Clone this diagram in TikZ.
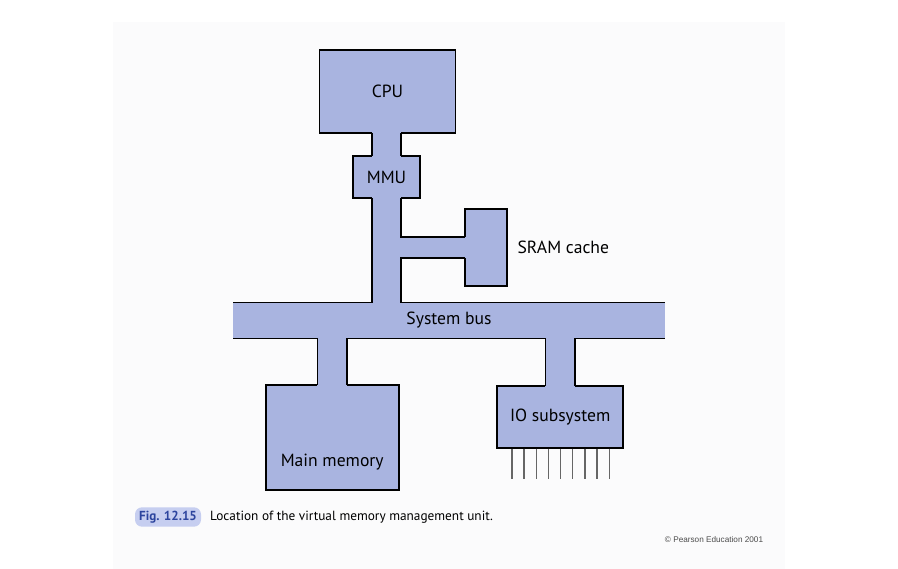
\documentclass[tikz,border=0pt]{standalone}
\usepackage{fontspec}
\setmainfont{PT Sans}
\newfontfamily\smallsans{Liberation Sans}
\usepackage{tikz}
\usetikzlibrary{calc}
\usetikzlibrary{positioning}
\definecolor{busblue}{RGB}{169,180,224}
\definecolor{figblue}{RGB}{198,206,240}
\definecolor{figtext}{RGB}{44,68,158}
\definecolor{panel}{RGB}{251,251,252}
\newcommand{\sw}{14.8}

\begin{document}
\begin{tikzpicture}[x=1pt,y=1pt,node distance=30pt,on grid,
		blk/.style={rectangle,draw=black,line width=1.8pt,fill=busblue,inner sep=0pt,outer sep=0pt,font=\fontsize{17.6}{20}\selectfont},
		wire/.style={draw=black,line width=1.8pt},
		stem/.style={fill=busblue},
		lbl/.style={font=\fontsize{17.6}{20}\selectfont,inner sep=0pt},
		pin/.style={draw=black!60,line width=1.4pt}]
		\useasboundingbox (0,0) rectangle (898,-569);
		\fill[panel] (113,-22) rectangle (785,-569);
		
		\node[blk,minimum width=136pt,minimum height=83pt] (cpu)   at (387.5,-91.5)  {CPU};
		\node[blk,minimum width=67pt,minimum height=42pt]  (mmu)   at (386.5,-177)   {MMU};
		\node[blk,minimum width=42pt,minimum height=77pt]  (cache) at (486.3,-247.5) {};
		\node[blk,draw=none,minimum width=432pt,minimum height=36pt] (bus) at (449,-320.5) {System bus};
		\node[blk,minimum width=133pt,minimum height=105pt] (mem)  at (332.2,-437.7) {};
		\node[blk,minimum width=126pt,minimum height=62pt]  (io)   at (560.2,-416.7) {IO subsystem};
		\node[lbl] (cachelbl) [right=77pt of cache] {SRAM cache};
		\node[lbl] (memlbl) at ($(mem.south)+(0,28)$) {Main memory};
		
		% stem edges
		\coordinate (mmuL) at ($(mmu.south)+(-\sw,0)$);
		\coordinate (mmuR) at ($(mmu.south)+(\sw,0)$);
		\coordinate (memL) at ($(mem.north)+(-\sw,0)$);
		\coordinate (memR) at ($(mem.north)+(\sw,0)$);
		\coordinate (ioL)  at ($(io.north)+(-\sw,0)$);
		\coordinate (ioR)  at ($(io.north)+(\sw,0)$);
		
		\fill[stem] ($(mmuL |- cpu.south)+(0,1.2)$) rectangle ($(mmuR |- mmu.north)+(0,-1.2)$);
		\fill[stem] ($(mmuL)+(0,1.2)$) rectangle ($(mmuR |- bus.north)+(0,-1)$);
		\fill[stem] ($(mmuR |- cache.west)+(-1,10.5)$) rectangle ($(cache.west)+(1.2,-10.5)$);
		\fill[stem] ($(memL |- bus.south)+(0,1)$) rectangle ($(memR)+(0,-1.2)$);
		\fill[stem] ($(ioL |- bus.south)+(0,1)$) rectangle ($(ioR)+(0,-1.2)$);
		
		\draw[wire] (mmuL |- cpu.south) -- (mmuL |- mmu.north);
		\draw[wire] (mmuR |- cpu.south) -- (mmuR |- mmu.north);
		\draw[wire] (bus.north west) -- (mmuL |- bus.north) -- (mmuL);
		\draw[wire] (mmuR) |- ($(cache.west)+(0,10.5)$);
		\draw[wire] ($(cache.west)+(0,-10.5)$) -| (mmuR |- bus.north) -- (bus.north east);
		\draw[wire] (bus.south west) -- (memL |- bus.south) -- (memL);
		\draw[wire] (memR) -- (memR |- bus.south) -- (ioL |- bus.south) -- (ioL);
		\draw[wire] (ioR) -- (ioR |- bus.south) -- (bus.south east);
		
		\foreach \i in {0,...,8}
			\draw[pin] ($(io.south west)+(14.7+12.17*\i,-0.9)$) -- ++(0,-30.5);
		
		\node[fill=figblue,rounded corners=7pt,text=figtext,font=\bfseries\fontsize{13.1}{15}\selectfont,
			minimum width=66pt,minimum height=19.4pt,inner sep=0pt] (fig) at (168,-517) {Fig. 12.15};
		\node[font=\fontsize{13.3}{15}\selectfont,anchor=west,inner sep=0pt] (caption) at (210,-517.5)
			{Location of the virtual memory management unit.};
		\node[font=\smallsans\fontsize{8.2}{10}\selectfont,text=black!70,anchor=east,inner sep=0pt] (copyr) at (763.3,-540)
			{\textcopyright{} Pearson Education 2001};
\end{tikzpicture}
\end{document}
